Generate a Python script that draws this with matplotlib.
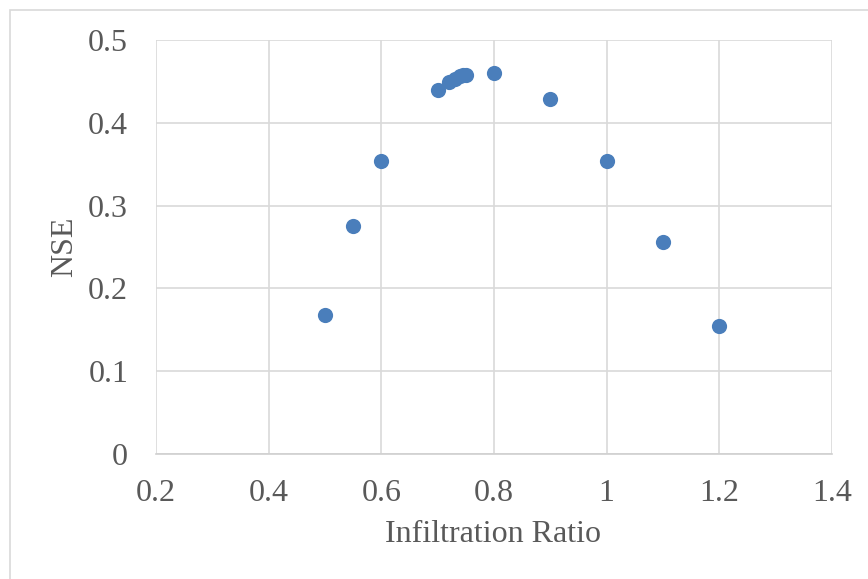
import matplotlib
matplotlib.use("Agg")
import matplotlib.pyplot as plt
from matplotlib.patches import Rectangle

infiltration_ratio = [0.5, 0.55, 0.6, 0.7, 0.72, 0.73, 0.74, 0.745, 0.75, 0.8, 0.9, 1.0, 1.1, 1.2]
nse = [0.168, 0.275, 0.354, 0.440, 0.449, 0.453, 0.457, 0.458, 0.458, 0.460, 0.429, 0.354, 0.256, 0.155]
x_ticks = [0.2, 0.4, 0.6, 0.8, 1.0, 1.2, 1.4]
x_tick_labels = ["0.2", "0.4", "0.6", "0.8", "1", "1.2", "1.4"]
y_ticks = [0, 0.1, 0.2, 0.3, 0.4, 0.5]
y_tick_labels = ["0", "0.1", "0.2", "0.3", "0.4", "0.5"]

plt.rcParams['font.family'] = ['Liberation Serif', 'DejaVu Serif']
W, H = 868, 579
fig = plt.figure(figsize=(W/100, H/100), dpi=100)
fig.patches.append(Rectangle((10/W, -0.05), 1.1, 1 - 10/H + 0.05, transform=fig.transFigure,
                             fill=False, edgecolor='#d9d9d9', linewidth=1.2))

ax = fig.add_axes([156/W, 1 - 454/H, (832-156)/W, (454-40)/H])
ax.scatter(infiltration_ratio, nse, s=120, color='#4A7EBB', zorder=3, linewidths=0)
ax.set_xlim(0.2, 1.4)
ax.set_ylim(0, 0.5)
ax.set_xticks(x_ticks)
ax.set_xticklabels(x_tick_labels)
ax.set_yticks(y_ticks)
ax.set_yticklabels(y_tick_labels)
ax.grid(True, color='#d9d9d9', linewidth=1.2)
ax.set_axisbelow(True)
for s in ['top', 'right', 'left']:
    ax.spines[s].set_visible(False)
ax.spines['bottom'].set_color('#d0d0d0')
ax.spines['bottom'].set_linewidth(1.2)
ax.tick_params(axis='x', length=0, labelsize=23, colors='#595959', pad=18)
ax.tick_params(axis='y', length=0, labelsize=23, colors='#595959', pad=20)
ax.set_xlabel('Infiltration Ratio', fontsize=23, color='#595959', va='center')
ax.set_ylabel('NSE', fontsize=23, color='#595959', va='center')
ax.xaxis.set_label_coords((493 - 156) / 676, (454 - 535) / 414)
ax.yaxis.set_label_coords((65 - 156) / 676, 0.5)
fig.savefig('out.png', dpi=100)
